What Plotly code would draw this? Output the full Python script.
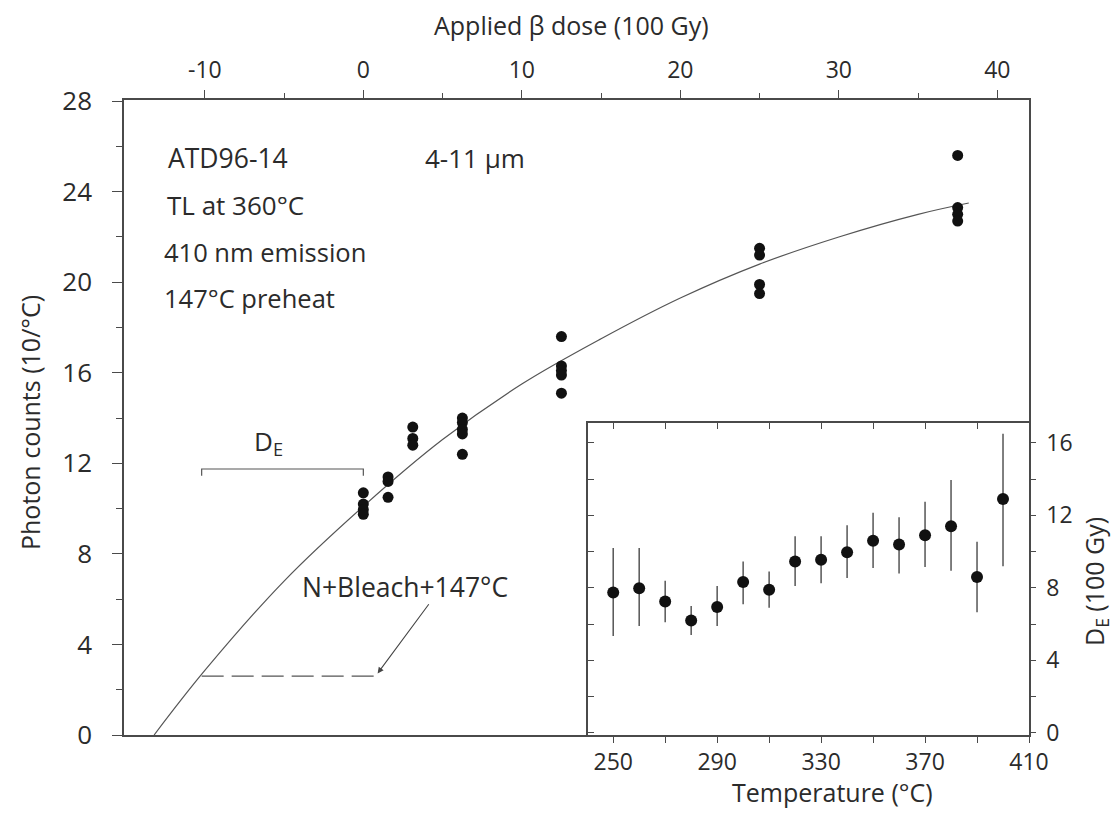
import plotly.graph_objects as go

W, H = 1116, 813

# ---------------- main panel data (dose in 100 Gy, counts in 10/°C) ----------------
dose = [0, 0, 0, 0,
        1.56, 1.56, 1.56,
        3.12, 3.12, 3.12,
        6.25, 6.25, 6.25, 6.25, 6.25,
        12.5, 12.5, 12.5, 12.5, 12.5,
        25, 25, 25, 25,
        37.5, 37.5, 37.5, 37.5]
counts = [10.7, 10.2, 9.95, 9.75,
          11.4, 11.2, 10.5,
          13.6, 13.1, 12.8,
          14.0, 13.8, 13.5, 13.3, 12.4,
          17.6, 16.3, 16.1, 15.9, 15.1,
          21.5, 21.2, 19.9, 19.5,
          25.6, 23.3, 23.0, 22.7]

# fitted growth curve
fit_dose = [-13.2, -10, -5, 0, 5, 10, 15, 20, 25, 30, 35, 38.2]
fit_counts = [0.0, 2.85, 6.8, 10.1, 13.05, 15.5, 17.5, 19.3, 20.8, 22.0, 23.0, 23.5]

# D_E bracket and N+Bleach level
de_bracket_dose = [-10.2, -10.2, 0, 0]
de_bracket_counts = [11.45, 11.75, 11.75, 11.45]
bleach_dose = [-10.2, 0.9]
bleach_counts = [2.6, 2.6]
arrow_tail = [4.2, 5.84]
arrow_head = [0.9, 2.72]

dose_ticks = [-10, 0, 10, 20, 30, 40]
dose_tick_labels = ["-10", "0", "10", "20", "30", "40"]
dose_minor_ticks = [-5, 5, 15, 25, 35]
count_ticks = [0, 4, 8, 12, 16, 20, 24, 28]
count_tick_labels = ["0", "4", "8", "12", "16", "20", "24", "28"]

# ---------------- inset data ----------------
temp = [250, 260, 270, 280, 290, 300, 310, 320, 330, 340, 350, 360, 370, 380, 390, 400]
de = [7.75, 7.98, 7.25, 6.2, 6.95, 8.32, 7.9, 9.45, 9.55, 9.97, 10.6, 10.4, 10.9, 11.4, 8.6, 12.9]
de_hi = [10.2, 10.2, 8.4, 7.0, 8.1, 9.45, 8.9, 10.85, 10.85, 11.45, 12.15, 11.9, 12.75, 13.95, 10.55, 16.5]
de_lo = [5.35, 5.9, 6.1, 5.4, 5.9, 7.1, 6.9, 8.1, 8.25, 8.55, 9.1, 8.8, 9.15, 8.95, 6.65, 9.2]

temp_ticks = [250, 290, 330, 370, 410]
temp_tick_labels = ["250", "290", "330", "370", "410"]
temp_minor_ticks = [250, 270, 290, 310, 330, 350, 370, 390, 410]
de_ticks = [0, 4, 8, 12, 16]
de_tick_labels = ["0", "4", "8", "12", "16"]
de_minor_ticks = [0, 2, 4, 6, 8, 10, 12, 14, 16]

FONT = "Open Sans"
TXT = "#2b2b2b"
LINE = "#4a4a4a"


def px(x):
    return x / W


def py(y):
    return 1 - y / H


fig = go.Figure()

fig.add_trace(go.Scatter(x=fit_dose, y=fit_counts, mode="lines",
                         line=dict(color="#555555", width=1.2, shape="spline", smoothing=1.0),
                         hoverinfo="skip", showlegend=False))
fig.add_trace(go.Scatter(x=dose, y=counts, mode="markers",
                         marker=dict(color="#111111", size=11), showlegend=False))
fig.add_trace(go.Scatter(x=de_bracket_dose, y=de_bracket_counts, mode="lines",
                         line=dict(color="#555555", width=1.2), showlegend=False))
fig.add_trace(go.Scatter(x=bleach_dose, y=bleach_counts, mode="lines",
                         line=dict(color="#555555", width=1.2, dash="22px,8px"), showlegend=False))

err_plus = [h - v for h, v in zip(de_hi, de)]
err_minus = [v - l for v, l in zip(de, de_lo)]
fig.add_trace(go.Scatter(x=temp, y=de, mode="markers", xaxis="x2", yaxis="y2",
                         marker=dict(color="#111111", size=12),
                         error_y=dict(type="data", array=err_plus, arrayminus=err_minus,
                                      color="#555555", thickness=1.5, width=0),
                         showlegend=False))
# invisible companions so the inside-tick overlay axes are drawn
fig.add_trace(go.Scatter(x=temp, y=de, mode="markers", xaxis="x3", yaxis="y2",
                         marker=dict(opacity=0), hoverinfo="skip", showlegend=False))
fig.add_trace(go.Scatter(x=temp, y=de, mode="markers", xaxis="x2", yaxis="y3",
                         marker=dict(opacity=0), hoverinfo="skip", showlegend=False))

tickfont = dict(family=FONT, size=23, color=TXT)
main_x_dom = [px(124), px(1029)]
main_y_dom = [py(735), py(100)]
ins_x_dom = [px(588), px(1029)]
ins_y_dom = [py(735), py(423)]
ins_x_range = [240.3, 410]
ins_y_range = [-0.12, 17.1]

fig.update_layout(
    width=W, height=H,
    margin=dict(l=0, r=0, t=0, b=0, autoexpand=False),
    paper_bgcolor="white", plot_bgcolor="white",
    showlegend=False,
    xaxis=dict(domain=main_x_dom, range=[-15.1, 42.0], anchor="y", side="top",
               automargin=False,
               showline=True, linecolor=LINE, linewidth=1.5, mirror=True,
               ticks="outside", ticklen=8, tickwidth=1.3, tickcolor=LINE,
               tickvals=dose_ticks, ticktext=dose_tick_labels, tickfont=tickfont,
               ticklabelstandoff=3,
               minor=dict(tickvals=dose_minor_ticks, ticks="outside", ticklen=5,
                          tickwidth=1.2, tickcolor=LINE),
               showgrid=False, zeroline=False),
    yaxis=dict(domain=main_y_dom, range=[0, 28.05], anchor="x",
               automargin=False,
               showline=True, linecolor=LINE, linewidth=1.5, mirror=True,
               ticks="outside", ticklen=10, tickwidth=1.3, tickcolor=LINE,
               tickvals=count_ticks, ticktext=count_tick_labels,
               tickfont=dict(family=FONT, size=26, color=TXT),
               ticklabelstandoff=15,
               minor=dict(dtick=2, tick0=0, ticks="outside", ticklen=6,
                          tickwidth=1.2, tickcolor=LINE),
               showgrid=False, zeroline=False),
    xaxis2=dict(domain=ins_x_dom, range=ins_x_range, anchor="y2", side="bottom",
                automargin=False,
                showline=True, linecolor=LINE, linewidth=1.5, mirror=True,
                ticks="outside", ticklen=6, tickwidth=1.3, tickcolor=LINE,
                tickvals=temp_ticks, ticktext=temp_tick_labels, tickfont=tickfont,
                minor=dict(tickvals=temp_minor_ticks, ticks="outside", ticklen=6,
                           tickwidth=1.2, tickcolor=LINE),
                showgrid=False, zeroline=False),
    yaxis2=dict(domain=ins_y_dom, range=ins_y_range, anchor="x2", side="right",
                automargin=False,
                showline=True, linecolor=LINE, linewidth=1.5, mirror=True,
                ticks="outside", ticklen=5, tickwidth=1.3, tickcolor=LINE,
                tickvals=de_ticks, ticktext=de_tick_labels, tickfont=tickfont,
                ticklabelstandoff=6,
                minor=dict(tickvals=de_minor_ticks, ticks="outside", ticklen=5,
                           tickwidth=1.2, tickcolor=LINE),
                showgrid=False, zeroline=False),
    xaxis3=dict(overlaying="x2", anchor="y2", side="top", range=ins_x_range,
                automargin=False,
                showline=False, ticks="inside", ticklen=6, tickwidth=1.2, tickcolor=LINE,
                tickvals=temp_minor_ticks, showticklabels=False,
                showgrid=False, zeroline=False),
    yaxis3=dict(overlaying="y2", anchor="x2", side="left", range=ins_y_range,
                automargin=False,
                showline=False, ticks="inside", ticklen=6, tickwidth=1.2, tickcolor=LINE,
                tickvals=de_minor_ticks, showticklabels=False,
                showgrid=False, zeroline=False),
)

def note(text, x, y, size=25.5, xanchor="left", angle=0):
    fig.add_annotation(text=text, x=px(x), y=py(y), xref="paper", yref="paper",
                       xanchor=xanchor, yanchor="middle", showarrow=False,
                       textangle=angle, font=dict(family=FONT, size=size, color=TXT))

# axis titles
note("Applied β dose (100 Gy)", 571, 25, size=25, xanchor="center")
note("Photon counts (10/°C)", 30, 423, size=25, xanchor="center", angle=-90)
note("Temperature (°C)", 832, 792, size=25, xanchor="center")
note("D<sub>E</sub> (100 Gy)", 1095, 582, size=25, xanchor="center", angle=-90)

# in-plot text
note("ATD96-14", 166, 158, size=26.5)
note("4-11 µm", 423, 158, size=26)
note("TL at 360°C", 165, 205, size=26)
note("410 nm emission", 162, 252)
note("147°C preheat", 162, 298)
note("D<sub>E</sub>", 268, 442, size=26, xanchor="center")
note("N+Bleach+147°C", 405, 587, size=26.5, xanchor="center")

fig.add_annotation(x=arrow_head[0], y=arrow_head[1], ax=arrow_tail[0], ay=arrow_tail[1],
                   xref="x", yref="y", axref="x", ayref="y", showarrow=True,
                   arrowhead=2, arrowsize=1.1, arrowwidth=1.1, arrowcolor="#444444", text="")

fig.write_html("out.html", config={"displayModeBar": False},
               post_script="document.body.style.margin='0';document.body.style.overflow='hidden';")
